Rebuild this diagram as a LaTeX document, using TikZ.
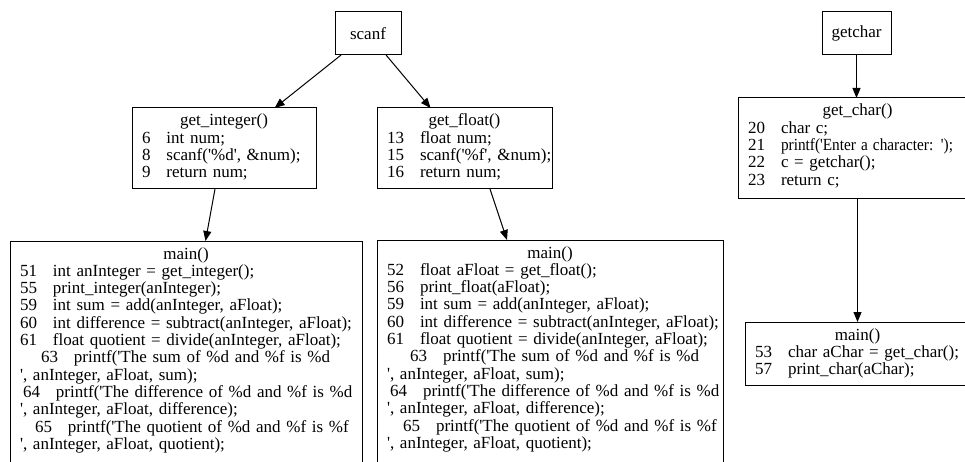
\documentclass[tikz,border=0pt]{standalone}
\usepackage{graphicx}
\usepackage{fontspec}
\setmainfont{Liberation Serif}
\usetikzlibrary{arrows.meta}

% text size and line pitch used in every box
\newcommand\gvtext{\fontsize{17}{17.3}\selectfont}
\newcommand\apos{\textquotesingle}
% numbered source line: line number, gap, code
\newcommand\gvl[2]{\mbox{#1\hspace*{16pt}#2}}
% numbered source line with an extra indent
\newcommand\gvi[3]{\mbox{\hspace*{#1}#2\hspace*{16pt}#3}}
\newcommand\gvc[1]{\makebox[\linewidth]{#1}}

\tikzset{
  gvbox/.style={draw, line width=1pt, rectangle, anchor=north west,
    outer sep=0pt, inner xsep=10pt, inner ysep=0pt, align=left,
    text height=18pt, font=\gvtext},
  gvlabel/.style={draw, line width=1pt, rectangle, anchor=north west,
    outer sep=0pt, inner sep=0pt, minimum height=43pt, font=\gvtext},
  arr/.style={line width=1pt, -{Triangle[length=10pt,width=8pt]}}
}

\begin{document}
\begin{tikzpicture}[x=1pt, y=-1pt]
  \useasboundingbox (0,0) rectangle (965,462);
  \fill[white] (0,0) rectangle (965,462);
  \clip (0,0) rectangle (965,462);

  % library calls
  \node[gvlabel, minimum width=66pt] (scanf) at (335,12) {scanf};
  \node[gvlabel, minimum width=69pt] (getchr) at (822,12) {getchar};

  % helper functions
  \node[gvbox, text width=164pt, text depth=63pt] (getint) at (132,108) {%
    \gvc{get\_integer()}\\
    \gvl{6}{int num;}\\
    \gvl{8}{scanf(\apos\%d\apos, \&num);}\\
    \gvl{9}{return num;}};
  \node[gvbox, text width=155pt, text depth=63pt] (getflt) at (377,108) {%
    \gvc{get\_float()}\\
    \gvl{13}{float num;}\\
    \gvl{15}{scanf(\apos\%f\apos, \&num);}\\
    \gvl{16}{return num;}};
  \node[gvbox, text width=219pt, text depth=83pt] (gchar) at (738,98) {%
    \gvc{get\_char()}\\
    \gvl{20}{char c;}\\
    \gvl{21}{\scalebox{0.9}[1]{printf(\apos Enter a character: \apos);}}\\
    \gvl{22}{c = getchar();}\\
    \gvl{23}{return c;}};

  % callers in main()
  \node[gvbox, text width=332pt, text depth=300pt] (mainl) at (10,241) {%
    \gvc{main()}\\
    \gvl{51}{int anInteger = get\_integer();}\\
    \gvl{55}{print\_integer(anInteger);}\\
    \gvl{59}{int sum = add(anInteger, aFloat);}\\
    \gvl{60}{int difference = subtract(anInteger, aFloat);}\\
    \gvl{61}{float quotient = divide(anInteger, aFloat);}\\
    \gvi{21pt}{63}{printf(\apos The sum of \%d and \%f is \%d}\\
    \mbox{\apos, anInteger, aFloat, sum);}\\
    \gvi{3pt}{64}{printf(\apos The difference of \%d and \%f is \%d}\\
    \mbox{\apos, anInteger, aFloat, difference);}\\
    \gvi{15pt}{65}{printf(\apos The quotient of \%d and \%f is \%f}\\
    \mbox{\apos, anInteger, aFloat, quotient);}};
  \node[gvbox, text width=326pt, text depth=300pt] (mainr) at (377,240) {%
    \gvc{main()}\\
    \gvl{52}{float aFloat = get\_float();}\\
    \gvl{56}{print\_float(aFloat);}\\
    \gvl{59}{int sum = add(anInteger, aFloat);}\\
    \gvl{60}{int difference = subtract(anInteger, aFloat);}\\
    \gvl{61}{float quotient = divide(anInteger, aFloat);}\\
    \gvi{23pt}{63}{printf(\apos The sum of \%d and \%f is \%d}\\
    \mbox{\apos, anInteger, aFloat, sum);}\\
    \gvi{3pt}{64}{printf(\apos The difference of \%d and \%f is \%d}\\
    \mbox{\apos, anInteger, aFloat, difference);}\\
    \gvi{16pt}{65}{printf(\apos The quotient of \%d and \%f is \%f}\\
    \mbox{\apos, anInteger, aFloat, quotient);}};
  \node[gvbox, text width=205pt, text depth=45.7pt] (mainc) at (745,322) {%
    \gvc{main()}\\
    \gvl{53}{char aChar = get\_char();}\\
    \gvl{57}{print\_char(aChar);}};

  % call edges
  \draw[arr] (scanf) -- (getint);
  \draw[arr] (scanf) -- (getflt);
  \draw[arr] ([xshift=-9pt]getint.south) -- ([xshift=19.5pt]mainl.north);
  \draw[arr] ([xshift=25.5pt]getflt.south) -- ([xshift=-43pt]mainr.north);
  \draw[arr] (getchr.south) -- (getchr.south |- gchar.north);
  \draw[arr] (gchar.south) -- (gchar.south |- mainc.north);
\end{tikzpicture}
\end{document}
